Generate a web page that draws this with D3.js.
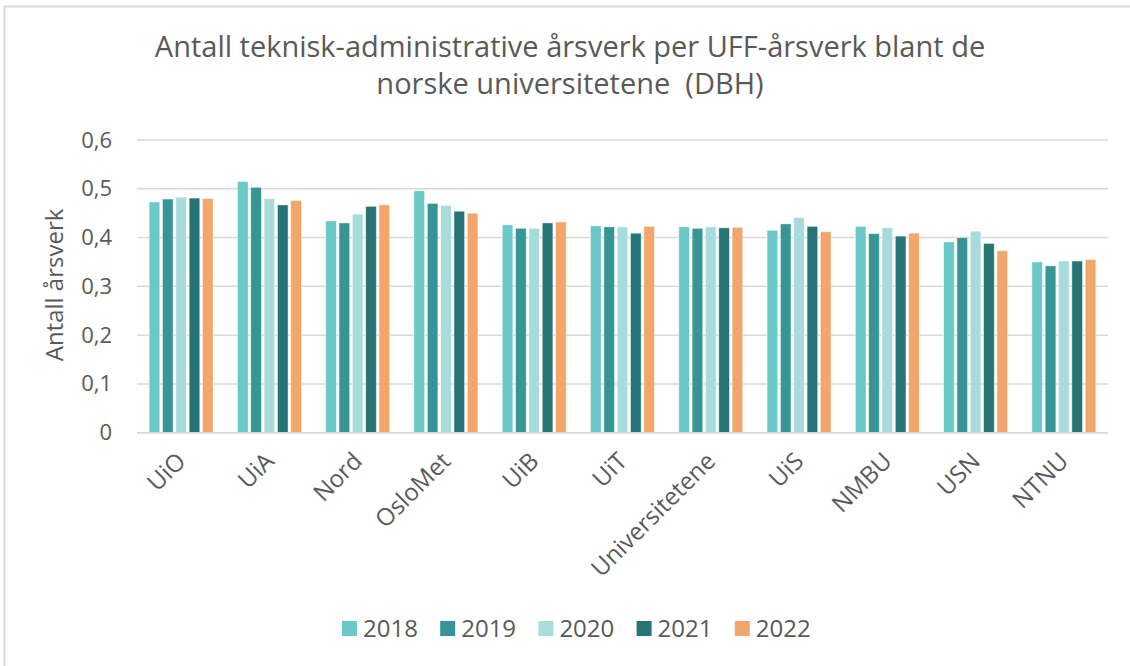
<!DOCTYPE html>
<html><head><meta charset="utf-8">
<script src="https://cdn.jsdelivr.net/npm/d3@7"></script>
<style>
html,body{margin:0;padding:0;background:#fff;}
text{font-family:"Open Sans",sans-serif;fill:#595959;}
</style></head>
<body>
<svg id="chart" width="1130" height="666"></svg>
<script>
const categories = ["UiO","UiA","Nord","OsloMet","UiB","UiT","Universitetene","UiS","NMBU","USN","NTNU"];
const years = ["2018","2019","2020","2021","2022"];
const v2018 = [0.473,0.515,0.434,0.496,0.426,0.424,0.422,0.415,0.423,0.391,0.350];
const v2019 = [0.479,0.503,0.430,0.470,0.419,0.422,0.419,0.428,0.408,0.400,0.342];
const v2020 = [0.483,0.480,0.448,0.466,0.419,0.422,0.422,0.441,0.420,0.413,0.352];
const v2021 = [0.481,0.467,0.464,0.454,0.430,0.409,0.420,0.423,0.403,0.388,0.352];
const v2022 = [0.480,0.476,0.467,0.450,0.432,0.423,0.421,0.412,0.409,0.373,0.355];
const yTicks = [0,0.1,0.2,0.3,0.4,0.5,0.6];
const colors = ["#6AC8C6","#389596","#A8DCDC","#277474","#F2A66B"];
const series = [v2018,v2019,v2020,v2021,v2022];

const svg = d3.select("#chart");
// frame
svg.append("rect").attr("x",4.5).attr("y",6.5).attr("width",1140).attr("height",700)
  .attr("fill","none").attr("stroke","#d9d9d9").attr("stroke-width",2);

const pLeft=137, pRight=1108, pTop=140, pBottom=432.7;
const x0 = d3.scaleBand().domain(categories).range([pLeft,pRight]).paddingInner(0.275).paddingOuter(0.1375);
const x1 = d3.scaleBand().domain(years).range([0,x0.bandwidth()]).paddingInner(0.2);
const y = d3.scaleLinear().domain([0,0.6]).range([pBottom,pTop]);
const fmt = d => d===0 ? "0" : d3.format(".1f")(d).replace(".",",");

// grid
svg.append("g").selectAll("line").data(yTicks).join("line")
  .attr("x1",pLeft).attr("x2",pRight).attr("y1",d=>y(d)).attr("y2",d=>y(d))
  .attr("stroke","#d9d9d9").attr("stroke-width",1.5);

// y axis labels
const yAxis = d3.axisLeft(y).tickValues(yTicks).tickFormat(fmt).tickSize(0).tickPadding(0);
const ya = svg.append("g").attr("transform",`translate(112,0)`).call(yAxis);
ya.select(".domain").remove();
ya.selectAll("text").attr("font-size",22).attr("fill","#595959").style("font-family","Open Sans");

// bars
const groups = svg.append("g").selectAll("g").data(categories).join("g")
  .attr("transform",d=>`translate(${x0(d)},0)`);
groups.selectAll("rect").data((d,i)=>years.map((yr,k)=>({yr,k,v:series[k][i]}))).join("rect")
  .attr("x",d=>x1(d.yr)).attr("width",x1.bandwidth())
  .attr("y",d=>y(d.v)).attr("height",d=>y(0)-y(d.v))
  .attr("fill",d=>colors[d.k]).attr("stroke","#ffffff").attr("stroke-opacity",0.6).attr("stroke-width",0.8);

// baseline
svg.append("line").attr("x1",pLeft).attr("x2",pRight).attr("y1",y(0)).attr("y2",y(0))
  .attr("stroke","#d9d9d9").attr("stroke-width",1.5);

// x axis labels
const xAxis = d3.axisBottom(x0).tickSize(0).tickPadding(0);
const xa = svg.append("g").attr("transform",`translate(0,${pBottom})`).call(xAxis);
xa.select(".domain").remove();
xa.selectAll("text").attr("font-size",24).attr("fill","#595959").style("font-family","Open Sans")
  .attr("text-anchor","end").attr("dy",null).attr("y",0)
  .attr("transform","translate(6,30) rotate(-45)");

// y title
svg.append("text").attr("transform","translate(63,285) rotate(-90)").attr("text-anchor","middle")
  .attr("font-size",24).text("Antall årsverk");

// title
const title = svg.append("text").attr("text-anchor","middle").attr("font-size",29);
title.append("tspan").attr("x",570).attr("y",57).text("Antall teknisk-administrative årsverk per UFF-årsverk blant de");
title.append("tspan").attr("x",570).attr("y",94).text("norske universitetene\u00a0 (DBH)");

// legend
const lg = svg.append("g").selectAll("g").data(years).join("g")
  .attr("transform",(d,i)=>`translate(${342+i*98.2},621)`);
lg.append("rect").attr("width",15).attr("height",15).attr("fill",(d,i)=>colors[i]);
lg.append("text").attr("x",21).attr("y",16).attr("font-size",24).text(d=>d);
</script>
</body></html>
